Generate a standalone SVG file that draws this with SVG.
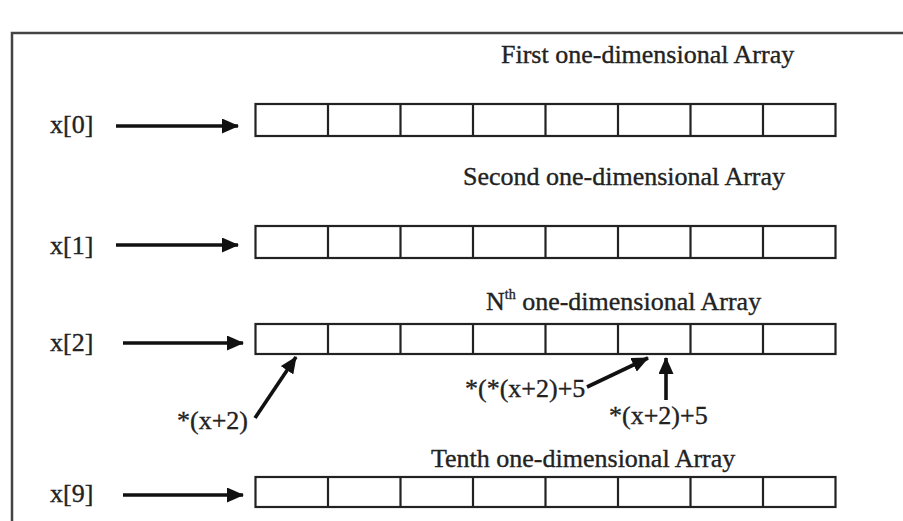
<svg xmlns="http://www.w3.org/2000/svg" width="903" height="521" viewBox="0 0 903 521">
<style>
  .t { font-family: "Liberation Serif", "Times New Roman", serif; font-size: 26px; fill: #222; stroke: #222; stroke-width: 0.35; }
  .cell { fill: #fff; stroke: #222; stroke-width: 2.2; }
  .div { stroke: #222; stroke-width: 2.2; }
  .arr { stroke: #111; stroke-width: 3.6; fill: none; marker-end: url(#ah); }
  .frame { stroke: #444; stroke-width: 2.5; fill: none; }
</style>
<defs>
  <marker id="ah" markerUnits="userSpaceOnUse" markerWidth="17" markerHeight="15" refX="16" refY="7.5" orient="auto">
    <path d="M0,0 L17,7.5 L0,15 z" fill="#111"/>
  </marker>
</defs>
<rect width="903" height="521" fill="#fff"/>
<path class="frame" d="M12,521 L12,33 L903,33"/>

<g id="title0"><text class="t" x="501" y="63">First one-dimensional Array</text></g>
<g id="title1"><text class="t" x="463" y="185">Second one-dimensional Array</text></g>
<g id="title2"><text class="t" x="486" y="310">N<tspan font-size="14" dy="-11">th</tspan><tspan dy="11"> one-dimensional Array</tspan></text></g>
<g id="title9"><text class="t" x="431" y="467">Tenth one-dimensional Array</text></g>

<g id="label0"><text class="t" x="50" y="133">x[0]</text></g>
<g id="label1"><text class="t" x="50" y="254">x[1]</text></g>
<g id="label2"><text class="t" x="50" y="351">x[2]</text></g>
<g id="label9"><text class="t" x="50" y="502">x[9]</text></g>

<g id="array0">
  <rect class="cell" x="255.5" y="104" width="580" height="32"/>
  <path class="div" d="M328,104V136M400.5,104V136M473,104V136M545.5,104V136M618,104V136M690.5,104V136M763,104V136"/>
</g>
<g id="array1">
  <rect class="cell" x="255.5" y="226" width="580" height="32"/>
  <path class="div" d="M328,226V258M400.5,226V258M473,226V258M545.5,226V258M618,226V258M690.5,226V258M763,226V258"/>
</g>
<g id="array2">
  <rect class="cell" x="255.5" y="324" width="580" height="30"/>
  <path class="div" d="M328,324V354M400.5,324V354M473,324V354M545.5,324V354M618,324V354M690.5,324V354M763,324V354"/>
</g>
<g id="array9">
  <rect class="cell" x="255.5" y="477" width="580" height="30"/>
  <path class="div" d="M328,477V507M400.5,477V507M473,477V507M545.5,477V507M618,477V507M690.5,477V507M763,477V507"/>
</g>

<g id="ptr1"><text class="t" x="177" y="429">*(x+2)</text></g>
<g id="ptr2"><text class="t" x="465" y="397">*(*(x+2)+5</text></g>
<g id="ptr3"><text class="t" x="609" y="424">*(x+2)+5</text></g>

<g id="connectors">
  <line class="arr" x1="116" y1="126" x2="238" y2="126"/>
  <line class="arr" x1="116" y1="245" x2="238" y2="245"/>
  <line class="arr" x1="123" y1="343" x2="243" y2="343"/>
  <line class="arr" x1="123" y1="495" x2="243" y2="495"/>
  <line class="arr" x1="255" y1="418" x2="296" y2="357"/>
  <line class="arr" x1="587" y1="387" x2="648" y2="358"/>
  <line class="arr" x1="666" y1="400" x2="666" y2="358"/>
</g>
</svg>
